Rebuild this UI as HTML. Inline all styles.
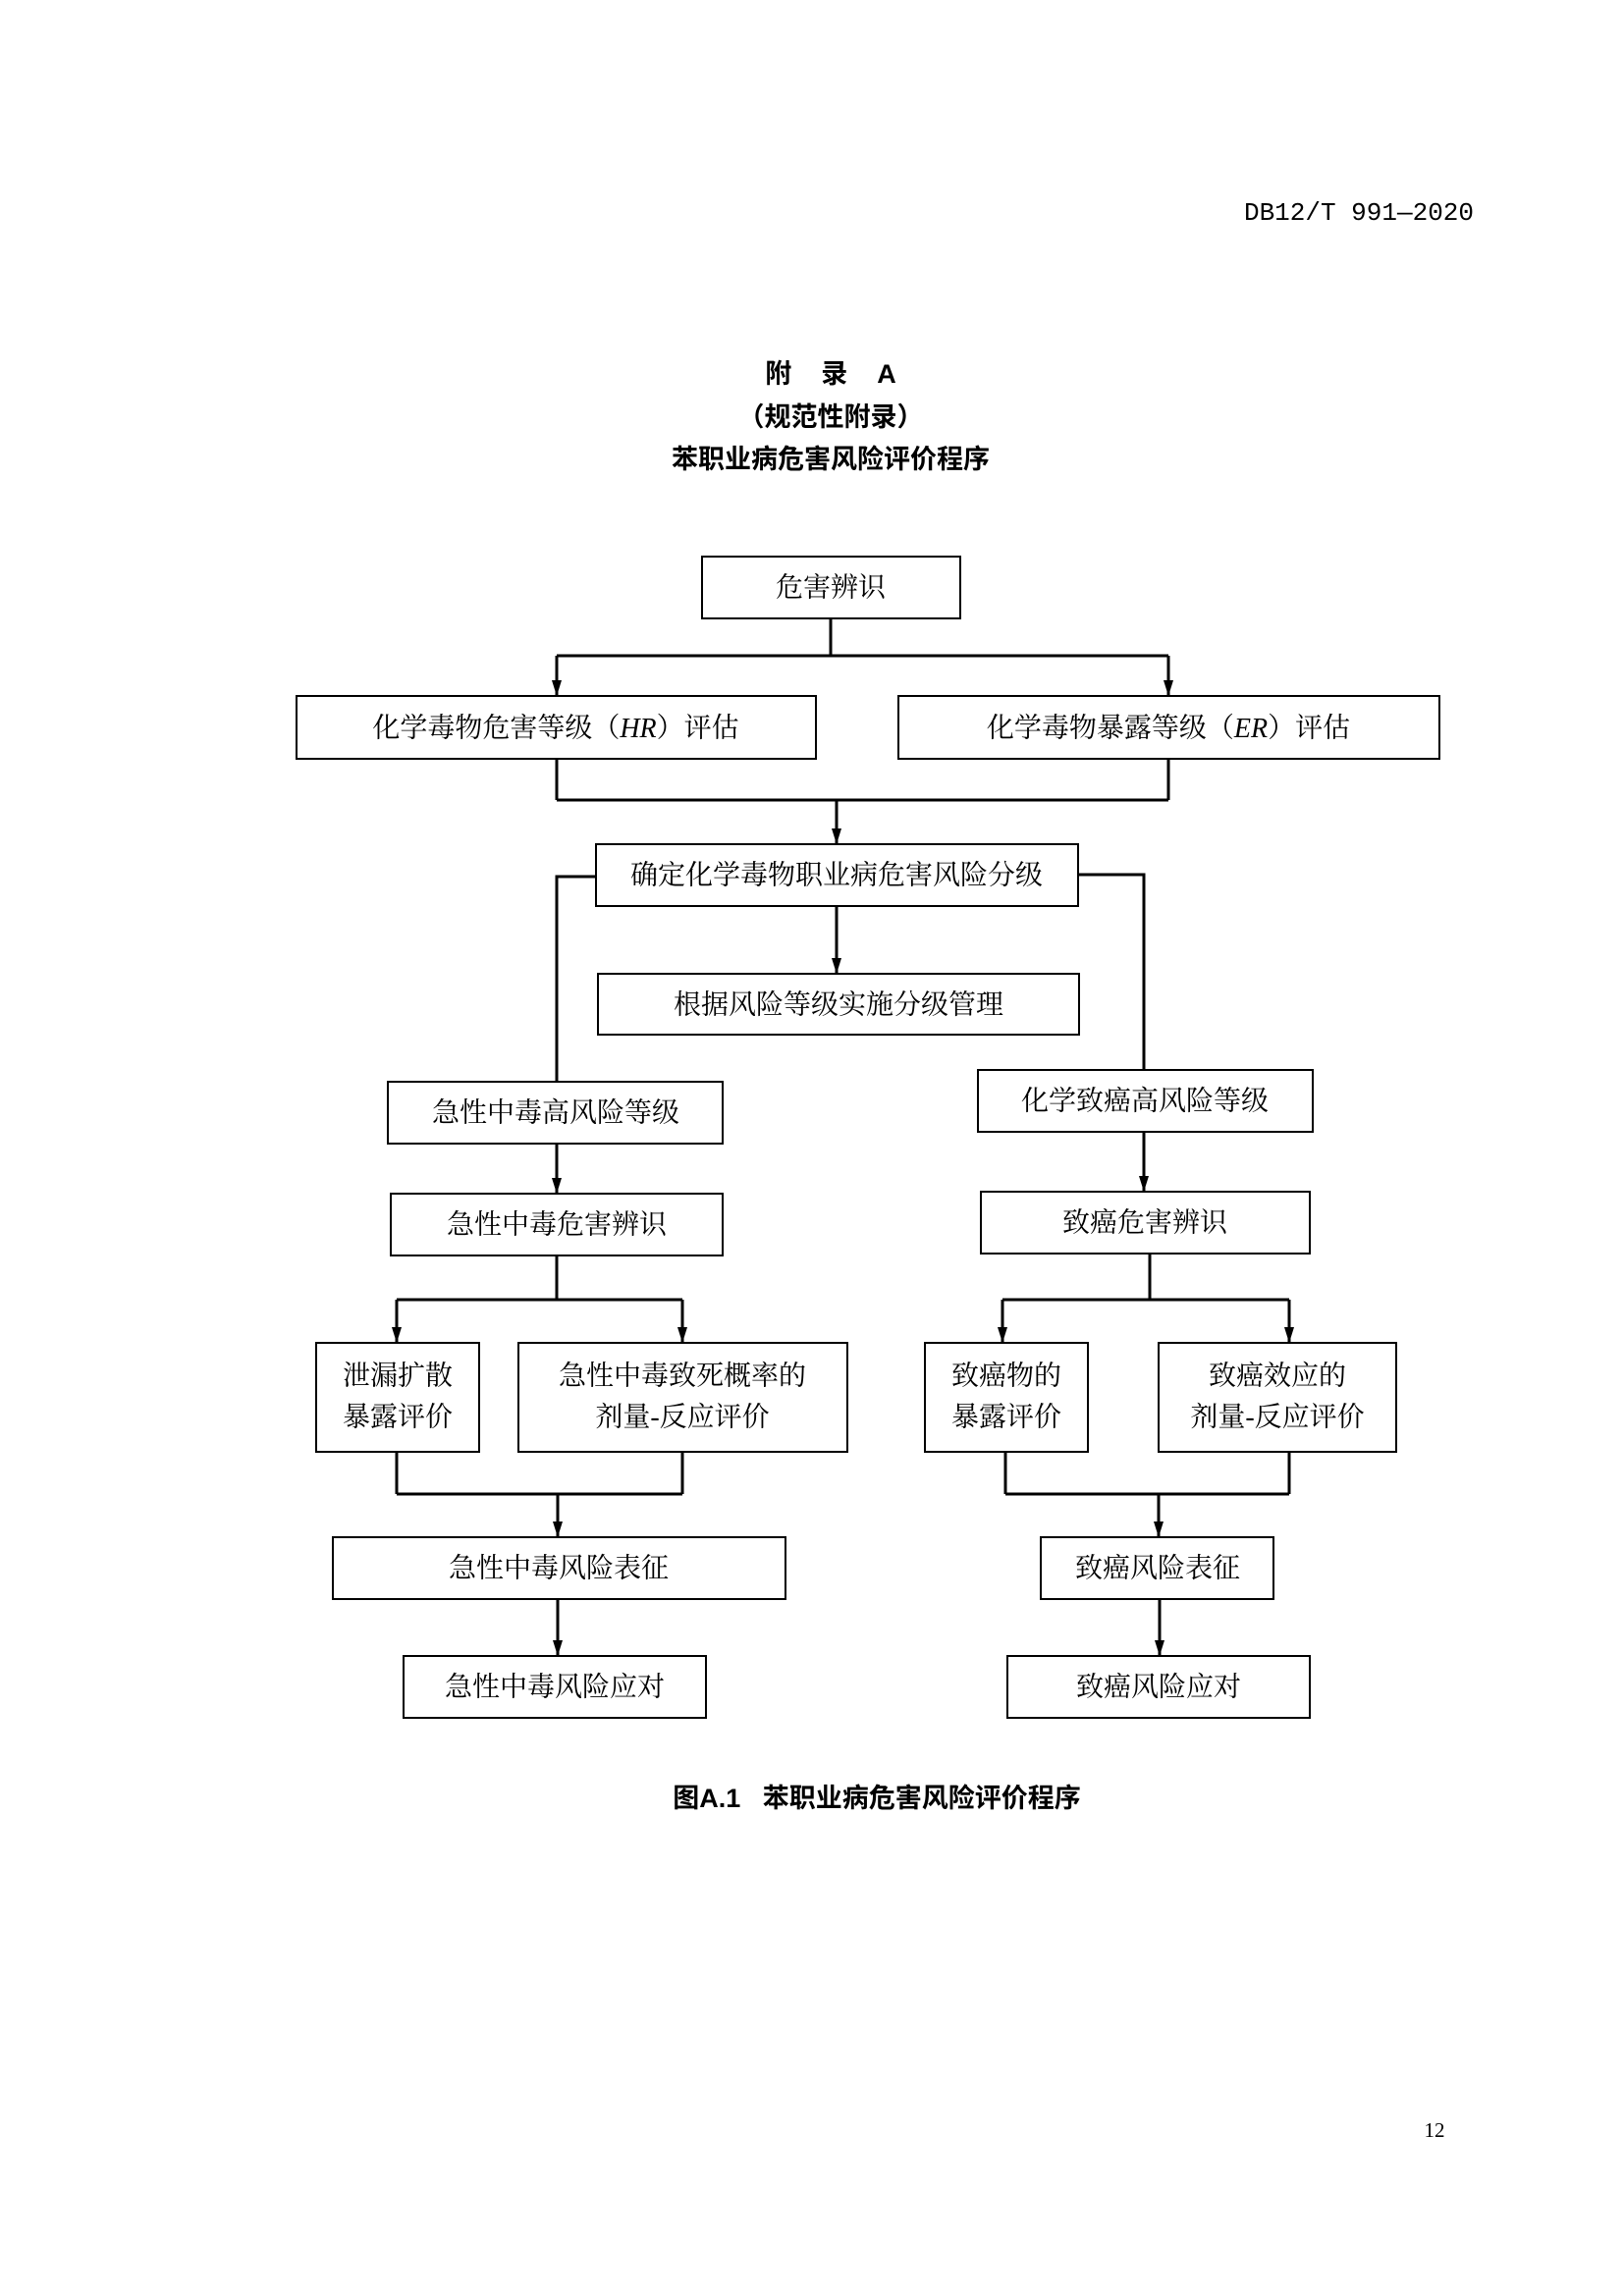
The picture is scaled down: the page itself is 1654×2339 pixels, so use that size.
<!DOCTYPE html>
<html><head><meta charset="utf-8"><style>
html,body{margin:0;padding:0;background:#fff}
svg{display:block}
.b{fill:#fff;stroke:#000;stroke-width:2}
.l{stroke:#000;stroke-width:3;fill:none}
.t{font-family:"Liberation Serif","Noto Serif CJK SC",serif;font-size:28px;fill:#000;text-anchor:middle;dominant-baseline:central}
.h{font-family:"Liberation Sans","Noto Sans CJK SC",sans-serif;font-weight:bold;font-size:27px;fill:#000;text-anchor:middle;dominant-baseline:central}
</style></head><body>
<svg width="1654" height="2339" viewBox="0 0 1654 2339" xmlns="http://www.w3.org/2000/svg">
<defs><marker id="a" viewBox="0 0 16 10" refX="16" refY="5" markerWidth="16" markerHeight="10" markerUnits="userSpaceOnUse" orient="auto"><path d="M0,0 L16,5 L0,10 z" fill="#000"/></marker></defs>
<text x="1384" y="217" style="font-family:'Liberation Mono','Noto Sans CJK SC',monospace;font-size:26px;text-anchor:middle;dominant-baseline:central">DB12/T 991—2020</text>
<text class="h" x="846" y="381" xml:space="preserve">附    录    A</text>
<text class="h" x="846" y="425">（规范性附录）</text>
<text class="h" x="846" y="468">苯职业病危害风险评价程序</text>

<path class="l" d="M846,630 V668 M567,668 H1190"/>
<path class="l" d="M567,668 V709" marker-end="url(#a)"/>
<path class="l" d="M1190,668 V709" marker-end="url(#a)"/>
<path class="l" d="M567,773 V815 M1190,773 V815 M567,815 H1190"/>
<path class="l" d="M852,815 V860" marker-end="url(#a)"/>
<path class="l" d="M852,923 V992" marker-end="url(#a)"/>
<path class="l" d="M607,893 H567 V1102 M1098,891 H1165 V1090"/>
<path class="l" d="M567,1165 V1216" marker-end="url(#a)"/>
<path class="l" d="M1165,1153 V1214" marker-end="url(#a)"/>
<path class="l" d="M567,1279 V1324 M404,1324 H695 M1171,1277 V1324 M1021,1324 H1313"/>
<path class="l" d="M404,1324 V1368" marker-end="url(#a)"/>
<path class="l" d="M695,1324 V1368" marker-end="url(#a)"/>
<path class="l" d="M1021,1324 V1368" marker-end="url(#a)"/>
<path class="l" d="M1313,1324 V1368" marker-end="url(#a)"/>
<path class="l" d="M404,1479 V1522 M695,1479 V1522 M404,1522 H695 M1024,1479 V1522 M1313,1479 V1522 M1024,1522 H1313"/>
<path class="l" d="M568,1522 V1566" marker-end="url(#a)"/>
<path class="l" d="M1180,1522 V1566" marker-end="url(#a)"/>
<path class="l" d="M568,1629 V1687" marker-end="url(#a)"/>
<path class="l" d="M1181,1629 V1687" marker-end="url(#a)"/>

<rect class="b" x="715" y="567" width="263" height="63"/><text class="t" x="846" y="599">危害辨识</text>
<rect class="b" x="302" y="709" width="529" height="64"/><text class="t" x="566" y="742">化学毒物危害等级（<tspan font-style="italic">HR</tspan>）评估</text>
<rect class="b" x="915" y="709" width="551" height="64"/><text class="t" x="1190" y="742">化学毒物暴露等级（<tspan font-style="italic">ER</tspan>）评估</text>
<rect class="b" x="607" y="860" width="491" height="63"/><text class="t" x="852" y="892">确定化学毒物职业病危害风险分级</text>
<rect class="b" x="609" y="992" width="490" height="62"/><text class="t" x="854" y="1024">根据风险等级实施分级管理</text>
<rect class="b" x="395" y="1102" width="341" height="63"/><text class="t" x="566" y="1134">急性中毒高风险等级</text>
<rect class="b" x="996" y="1090" width="341" height="63"/><text class="t" x="1166" y="1122">化学致癌高风险等级</text>
<rect class="b" x="398" y="1216" width="338" height="63"/><text class="t" x="567" y="1248">急性中毒危害辨识</text>
<rect class="b" x="999" y="1214" width="335" height="63"/><text class="t" x="1166" y="1246">致癌危害辨识</text>
<rect class="b" x="322" y="1368" width="166" height="111"/><text class="t" x="405" y="1402">泄漏扩散</text><text class="t" x="405" y="1444">暴露评价</text>
<rect class="b" x="528" y="1368" width="335" height="111"/><text class="t" x="695" y="1402">急性中毒致死概率的</text><text class="t" x="695" y="1444">剂量-反应评价</text>
<rect class="b" x="942" y="1368" width="166" height="111"/><text class="t" x="1025" y="1402">致癌物的</text><text class="t" x="1025" y="1444">暴露评价</text>
<rect class="b" x="1180" y="1368" width="242" height="111"/><text class="t" x="1301" y="1402">致癌效应的</text><text class="t" x="1301" y="1444">剂量-反应评价</text>
<rect class="b" x="339" y="1566" width="461" height="63"/><text class="t" x="569" y="1598">急性中毒风险表征</text>
<rect class="b" x="1060" y="1566" width="237" height="63"/><text class="t" x="1179" y="1598">致癌风险表征</text>
<rect class="b" x="411" y="1687" width="308" height="63"/><text class="t" x="565" y="1719">急性中毒风险应对</text>
<rect class="b" x="1026" y="1687" width="308" height="63"/><text class="t" x="1180" y="1719">致癌风险应对</text>

<text class="h" x="893" y="1832" xml:space="preserve">图A.1   苯职业病危害风险评价程序</text>
<text x="1461" y="2170" style="font-family:'Liberation Serif',serif;font-size:21px;text-anchor:middle;dominant-baseline:central">12</text>
</svg>
</body></html>
